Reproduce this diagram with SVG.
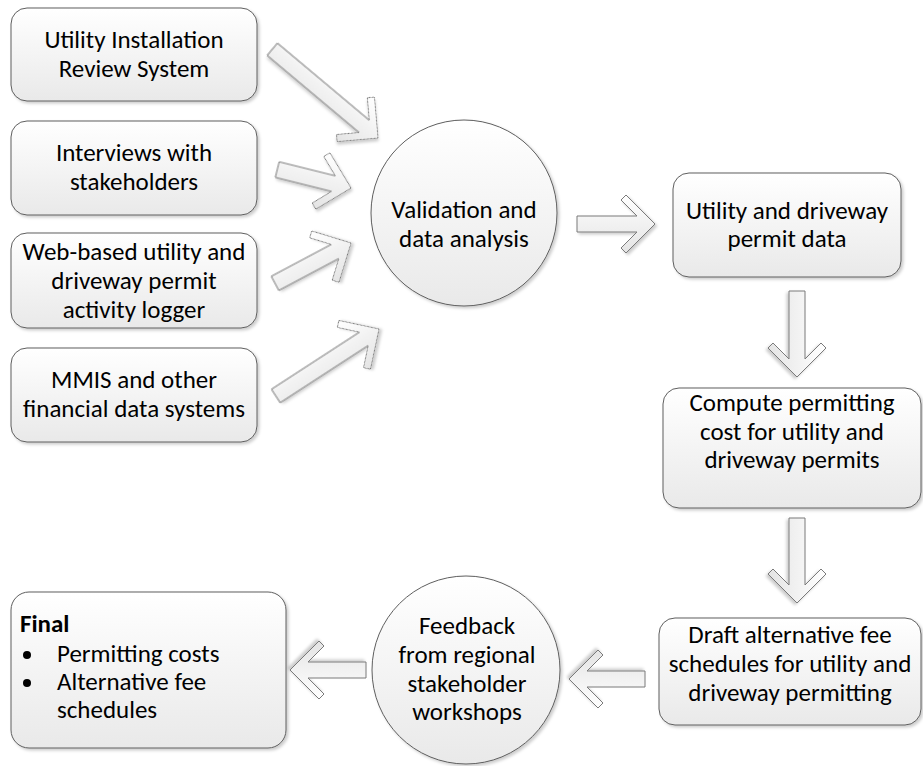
<svg xmlns="http://www.w3.org/2000/svg" width="923" height="766" viewBox="0 0 923 766">
  <defs>
    <linearGradient id="fillGrad" x1="0" y1="0" x2="0" y2="1">
      <stop offset="0" stop-color="#ffffff"/>
      <stop offset="1" stop-color="#e9e9e9"/>
    </linearGradient>
    <linearGradient id="arrowGrad" x1="0" y1="0" x2="0" y2="1">
      <stop offset="0" stop-color="#ffffff"/>
      <stop offset="1" stop-color="#e4e4e4"/>
    </linearGradient>
    <filter id="shadow" x="-10%" y="-10%" width="125%" height="125%">
      <feDropShadow dx="2" dy="2" stdDeviation="1.5" flood-color="#000000" flood-opacity="0.2"/>
    </filter>
  </defs>
  <style>
    .box { fill: url(#fillGrad); stroke: #5e5e5e; stroke-width: 1; filter: url(#shadow); }
    .arrow { fill: url(#arrowGrad); stroke: #7a7a7a; stroke-width: 1; stroke-linejoin: miter; filter: url(#shadow); }
    .label { font-family: Carlito, Calibri, Lato, "Open Sans", sans-serif; font-size: 25px; fill: #000000; text-anchor: middle; }
    .left { text-anchor: start; }
    .bold { font-weight: bold; }
  </style>

  <rect width="923" height="766" fill="#ffffff"/>

  <!-- block arrows between steps -->
  <g id="connectors">
    <path class="arrow" transform="translate(378,138) rotate(40)" d="M0,0 L-29,-29 L-34,-24 L-18,-8 L-138,-8 L-138,8 L-18,8 L-34,24 L-29,29 Z"/>
    <path class="arrow" transform="translate(351,188) rotate(14)" d="M0,0 L-29,-29 L-34,-24 L-18,-8 L-76,-8 L-76,8 L-18,8 L-34,24 L-29,29 Z"/>
    <path class="arrow" transform="translate(351,243) rotate(-28)" d="M0,0 L-29,-29 L-34,-24 L-18,-8 L-86,-8 L-86,8 L-18,8 L-34,24 L-29,29 Z"/>
    <path class="arrow" transform="translate(379,329) rotate(-33)" d="M0,0 L-29,-29 L-34,-24 L-18,-8 L-123,-8 L-123,8 L-18,8 L-34,24 L-29,29 Z"/>
    <path class="arrow" transform="translate(655,224)" d="M0,0 L-29,-29 L-34,-24 L-18,-8 L-78,-8 L-78,8 L-18,8 L-34,24 L-29,29 Z"/>
    <path class="arrow" transform="translate(797,377) rotate(90)" d="M0,0 L-29,-29 L-34,-24 L-18,-8 L-86,-8 L-86,8 L-18,8 L-34,24 L-29,29 Z"/>
    <path class="arrow" transform="translate(797,603) rotate(90)" d="M0,0 L-29,-29 L-34,-24 L-18,-8 L-85,-8 L-85,8 L-18,8 L-34,24 L-29,29 Z"/>
    <path class="arrow" transform="translate(569,679) rotate(180)" d="M0,0 L-29,-29 L-34,-24 L-18,-8 L-76,-8 L-76,8 L-18,8 L-34,24 L-29,29 Z"/>
    <path class="arrow" transform="translate(290,670) rotate(180)" d="M0,0 L-29,-29 L-34,-24 L-18,-8 L-76,-8 L-76,8 L-18,8 L-34,24 L-29,29 Z"/>
  </g>

  <g id="src-uirs">
    <rect class="box" x="11" y="8" width="246" height="93" rx="16"/>
    <text class="label" x="134" y="48">Utility Installation</text>
    <text class="label" x="134" y="77">Review System</text>
  </g>

  <g id="src-interviews">
    <rect class="box" x="11" y="121" width="246" height="94" rx="16"/>
    <text class="label" x="134" y="161">Interviews with</text>
    <text class="label" x="134" y="190">stakeholders</text>
  </g>

  <g id="src-logger">
    <rect class="box" x="11" y="233" width="246" height="95" rx="16"/>
    <text class="label" x="134" y="260">Web-based utility and</text>
    <text class="label" x="134" y="289">driveway permit</text>
    <text class="label" x="134" y="318">activity logger</text>
  </g>

  <g id="src-mmis">
    <rect class="box" x="11" y="348" width="246" height="94" rx="16"/>
    <text class="label" x="134" y="388">MMIS and other</text>
    <text class="label" x="134" y="417">financial data systems</text>
  </g>

  <g id="validation">
    <circle class="box" cx="464" cy="213" r="93"/>
    <text class="label" x="464" y="218">Validation and</text>
    <text class="label" x="464" y="247">data analysis</text>
  </g>

  <g id="permit-data">
    <rect class="box" x="673" y="173" width="228" height="104" rx="16"/>
    <text class="label" x="787" y="219">Utility and driveway</text>
    <text class="label" x="787" y="247">permit data</text>
  </g>

  <g id="compute-cost">
    <rect class="box" x="663" y="388" width="258" height="120" rx="16"/>
    <text class="label" x="792" y="411">Compute permitting</text>
    <text class="label" x="792" y="440">cost for utility and</text>
    <text class="label" x="792" y="468">driveway permits</text>
  </g>

  <g id="draft-schedules">
    <rect class="box" x="659" y="618" width="262" height="107" rx="16"/>
    <text class="label" x="790" y="643">Draft alternative fee</text>
    <text class="label" x="790" y="672">schedules for utility and</text>
    <text class="label" x="790" y="701">driveway permitting</text>
  </g>

  <g id="feedback">
    <circle class="box" cx="466" cy="670" r="94"/>
    <text class="label" x="467" y="634">Feedback</text>
    <text class="label" x="467" y="663">from regional</text>
    <text class="label" x="467" y="692">stakeholder</text>
    <text class="label" x="467" y="720">workshops</text>
  </g>

  <g id="final">
    <rect class="box" x="11" y="592" width="275" height="156" rx="18"/>
    <text class="label left bold" x="20" y="632">Final</text>
    <circle cx="27" cy="655" r="4" fill="#000000"/>
    <text class="label left" x="57" y="662">Permitting costs</text>
    <circle cx="27" cy="683" r="4" fill="#000000"/>
    <text class="label left" x="57" y="690">Alternative fee</text>
    <text class="label left" x="57" y="718">schedules</text>
  </g>
</svg>
